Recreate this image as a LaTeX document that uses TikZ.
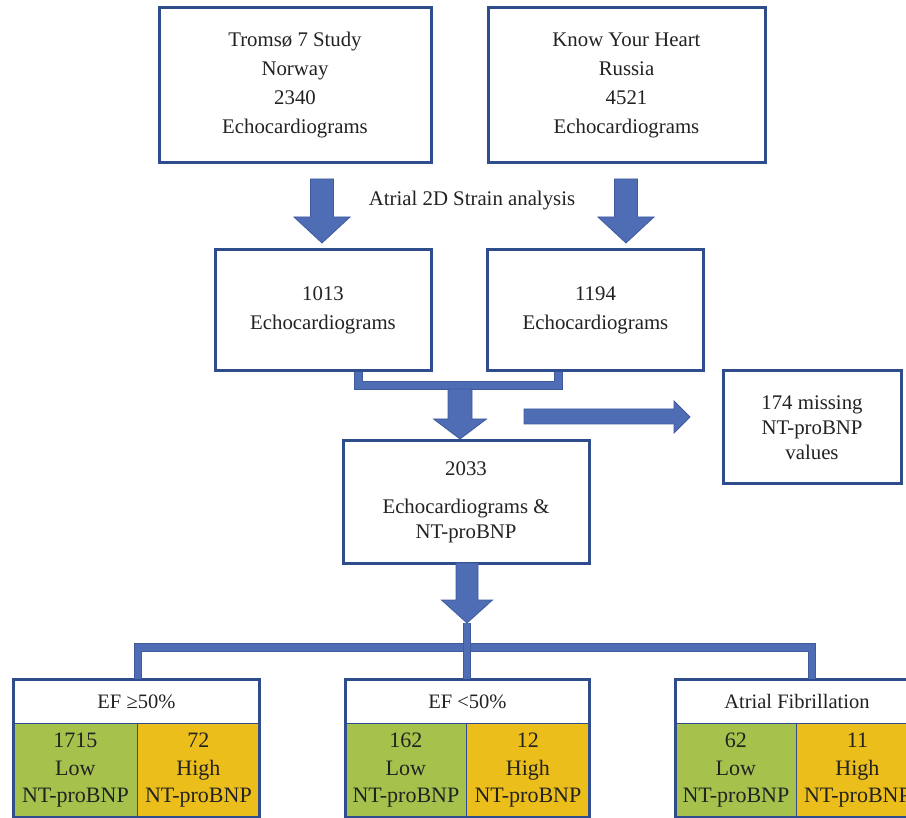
\documentclass[tikz,border=0pt]{standalone}
\usepackage{fontspec}
\setmainfont{Liberation Serif}
\definecolor{bdr}{HTML}{2F4C8C}
\definecolor{afill}{HTML}{4E6DB4}
\definecolor{aline}{HTML}{3F5B9E}
\definecolor{cgreen}{HTML}{A6C24C}
\definecolor{cyellow}{HTML}{EBBE1C}
\definecolor{txt}{HTML}{222222}
\tikzset{
  box/.style={draw=bdr, line width=3pt, fill=white, align=center, text=txt,
    inner sep=0pt, font=\fontsize{20.8}{29}\selectfont},
  cell/.style={draw=bdr, line width=0.8pt, align=center, text=txt, inner sep=0pt,
    anchor=north west, font=\fontsize{22}{27.5}\selectfont},
  headcell/.style={cell, font=\fontsize{20.5}{24}\selectfont},
  outer/.style={draw=bdr, line width=3pt},
  blockarrow/.style={fill=afill, draw=aline, line width=0.8pt},
  bar/.style={draw=aline, line width=0.9pt, double=afill, double distance=6.5pt}
}
\newcommand{\blockdown}[6]{%
  \filldraw[blockarrow] (#1-#5,#2) -- (#1+#5,#2) -- (#1+#5,#3) -- (#1+#6,#3)
    -- (#1,#4) -- (#1-#6,#3) -- (#1-#5,#3) -- cycle;}
\begin{document}
\begin{tikzpicture}[x=1pt,y=-1pt]
\clip (0,0) rectangle (906,818);
\fill[white] (0,0) rectangle (906,818);

% top boxes
\node[box, minimum width=272pt, minimum height=155pt] (t7) at (295,85.5)
  {Troms\o{} 7 Study\\Norway\\2340\\Echocardiograms};
\node[box, minimum width=277pt, minimum height=155pt] (kyh) at (626.5,85.5)
  {Know Your Heart\\Russia\\4521\\Echocardiograms};

% strain arrows
\blockdown{322}{179}{217}{243}{11.5}{28}
\blockdown{626}{179}{217}{243}{11.5}{28}
\node[text=txt, font=\fontsize{20.8}{24}\selectfont, inner sep=0pt] (strain) at (472,201) {Atrial 2D Strain analysis};

% second row
\node[box, minimum width=216pt, minimum height=121pt] (e1013) at (323,310.5)
  {1013\\Echocardiograms};
\node[box, minimum width=216pt, minimum height=121pt] (e1194) at (595.5,310.5)
  {1194\\Echocardiograms};

% merge connector
\coordinate (ml) at (358.5,385.5);
\coordinate (mr) at (558.5,385.5);
\draw[bar] (e1013.south -| ml) -- (ml) -- (mr) -- (e1194.south -| mr);
\blockdown{460}{389}{419}{439}{12}{26.5}

% missing
\node[box, minimum width=178pt, minimum height=113pt, font=\fontsize{20.8}{25}\selectfont] (m174) at (812,427.5)
  {174 missing\\NT-proBNP\\values};
\filldraw[blockarrow] (524,409) -- (674,409) -- (674,401) -- (690,417) -- (674,433) -- (674,424) -- (524,424) -- cycle;

% combined
\node[box, minimum width=246pt, minimum height=122pt] (e2033) at (466,502)
  {2033\\[9pt]Echocardiograms \&\\[-4pt]NT-proBNP};

\blockdown{467}{563}{600}{623}{11}{25.5}

% branching
\coordinate (bl) at (138,647.5);
\coordinate (bm) at (467,647.5);
\coordinate (br) at (812,647.5);
\coordinate (btop) at (467,623);

% bottom groups
\node[headcell, fill=white, minimum width=246pt, minimum height=44pt] (h1) at (13,679) {EF ≥50\%};
\node[cell, fill=cgreen, minimum width=124pt, minimum height=94pt] (l1) at (13,723) {1715\\Low\\NT-proBNP};
\node[cell, fill=cyellow, minimum width=122pt, minimum height=94pt] (g1) at (137,723) {72\\High\\NT-proBNP};
\draw[outer] (h1.north west) rectangle (g1.south east);

\node[headcell, fill=white, minimum width=244pt, minimum height=44pt] (h2) at (345,679) {EF <50\%};
\node[cell, fill=cgreen, minimum width=121pt, minimum height=94pt] (l2) at (345,723) {162\\Low\\NT-proBNP};
\node[cell, fill=cyellow, minimum width=123pt, minimum height=94pt] (g2) at (466,723) {12\\High\\NT-proBNP};
\draw[outer] (h2.north west) rectangle (g2.south east);

\node[headcell, fill=white, minimum width=243pt, minimum height=44pt] (h3) at (675,679) {Atrial Fibrillation};
\node[cell, fill=cgreen, minimum width=121pt, minimum height=94pt] (l3) at (675,723) {62\\Low\\NT-proBNP};
\node[cell, fill=cyellow, minimum width=122pt, minimum height=94pt] (g3) at (796,723) {11\\High\\NT-proBNP};
\draw[outer] (h3.north west) rectangle (g3.south east);

\draw[bar] (h1.north -| bl) -- (bl) -- (br) -- (h3.north -| br);
\draw[bar] (btop) -- (h2.north -| btop);
\end{tikzpicture}
\end{document}
